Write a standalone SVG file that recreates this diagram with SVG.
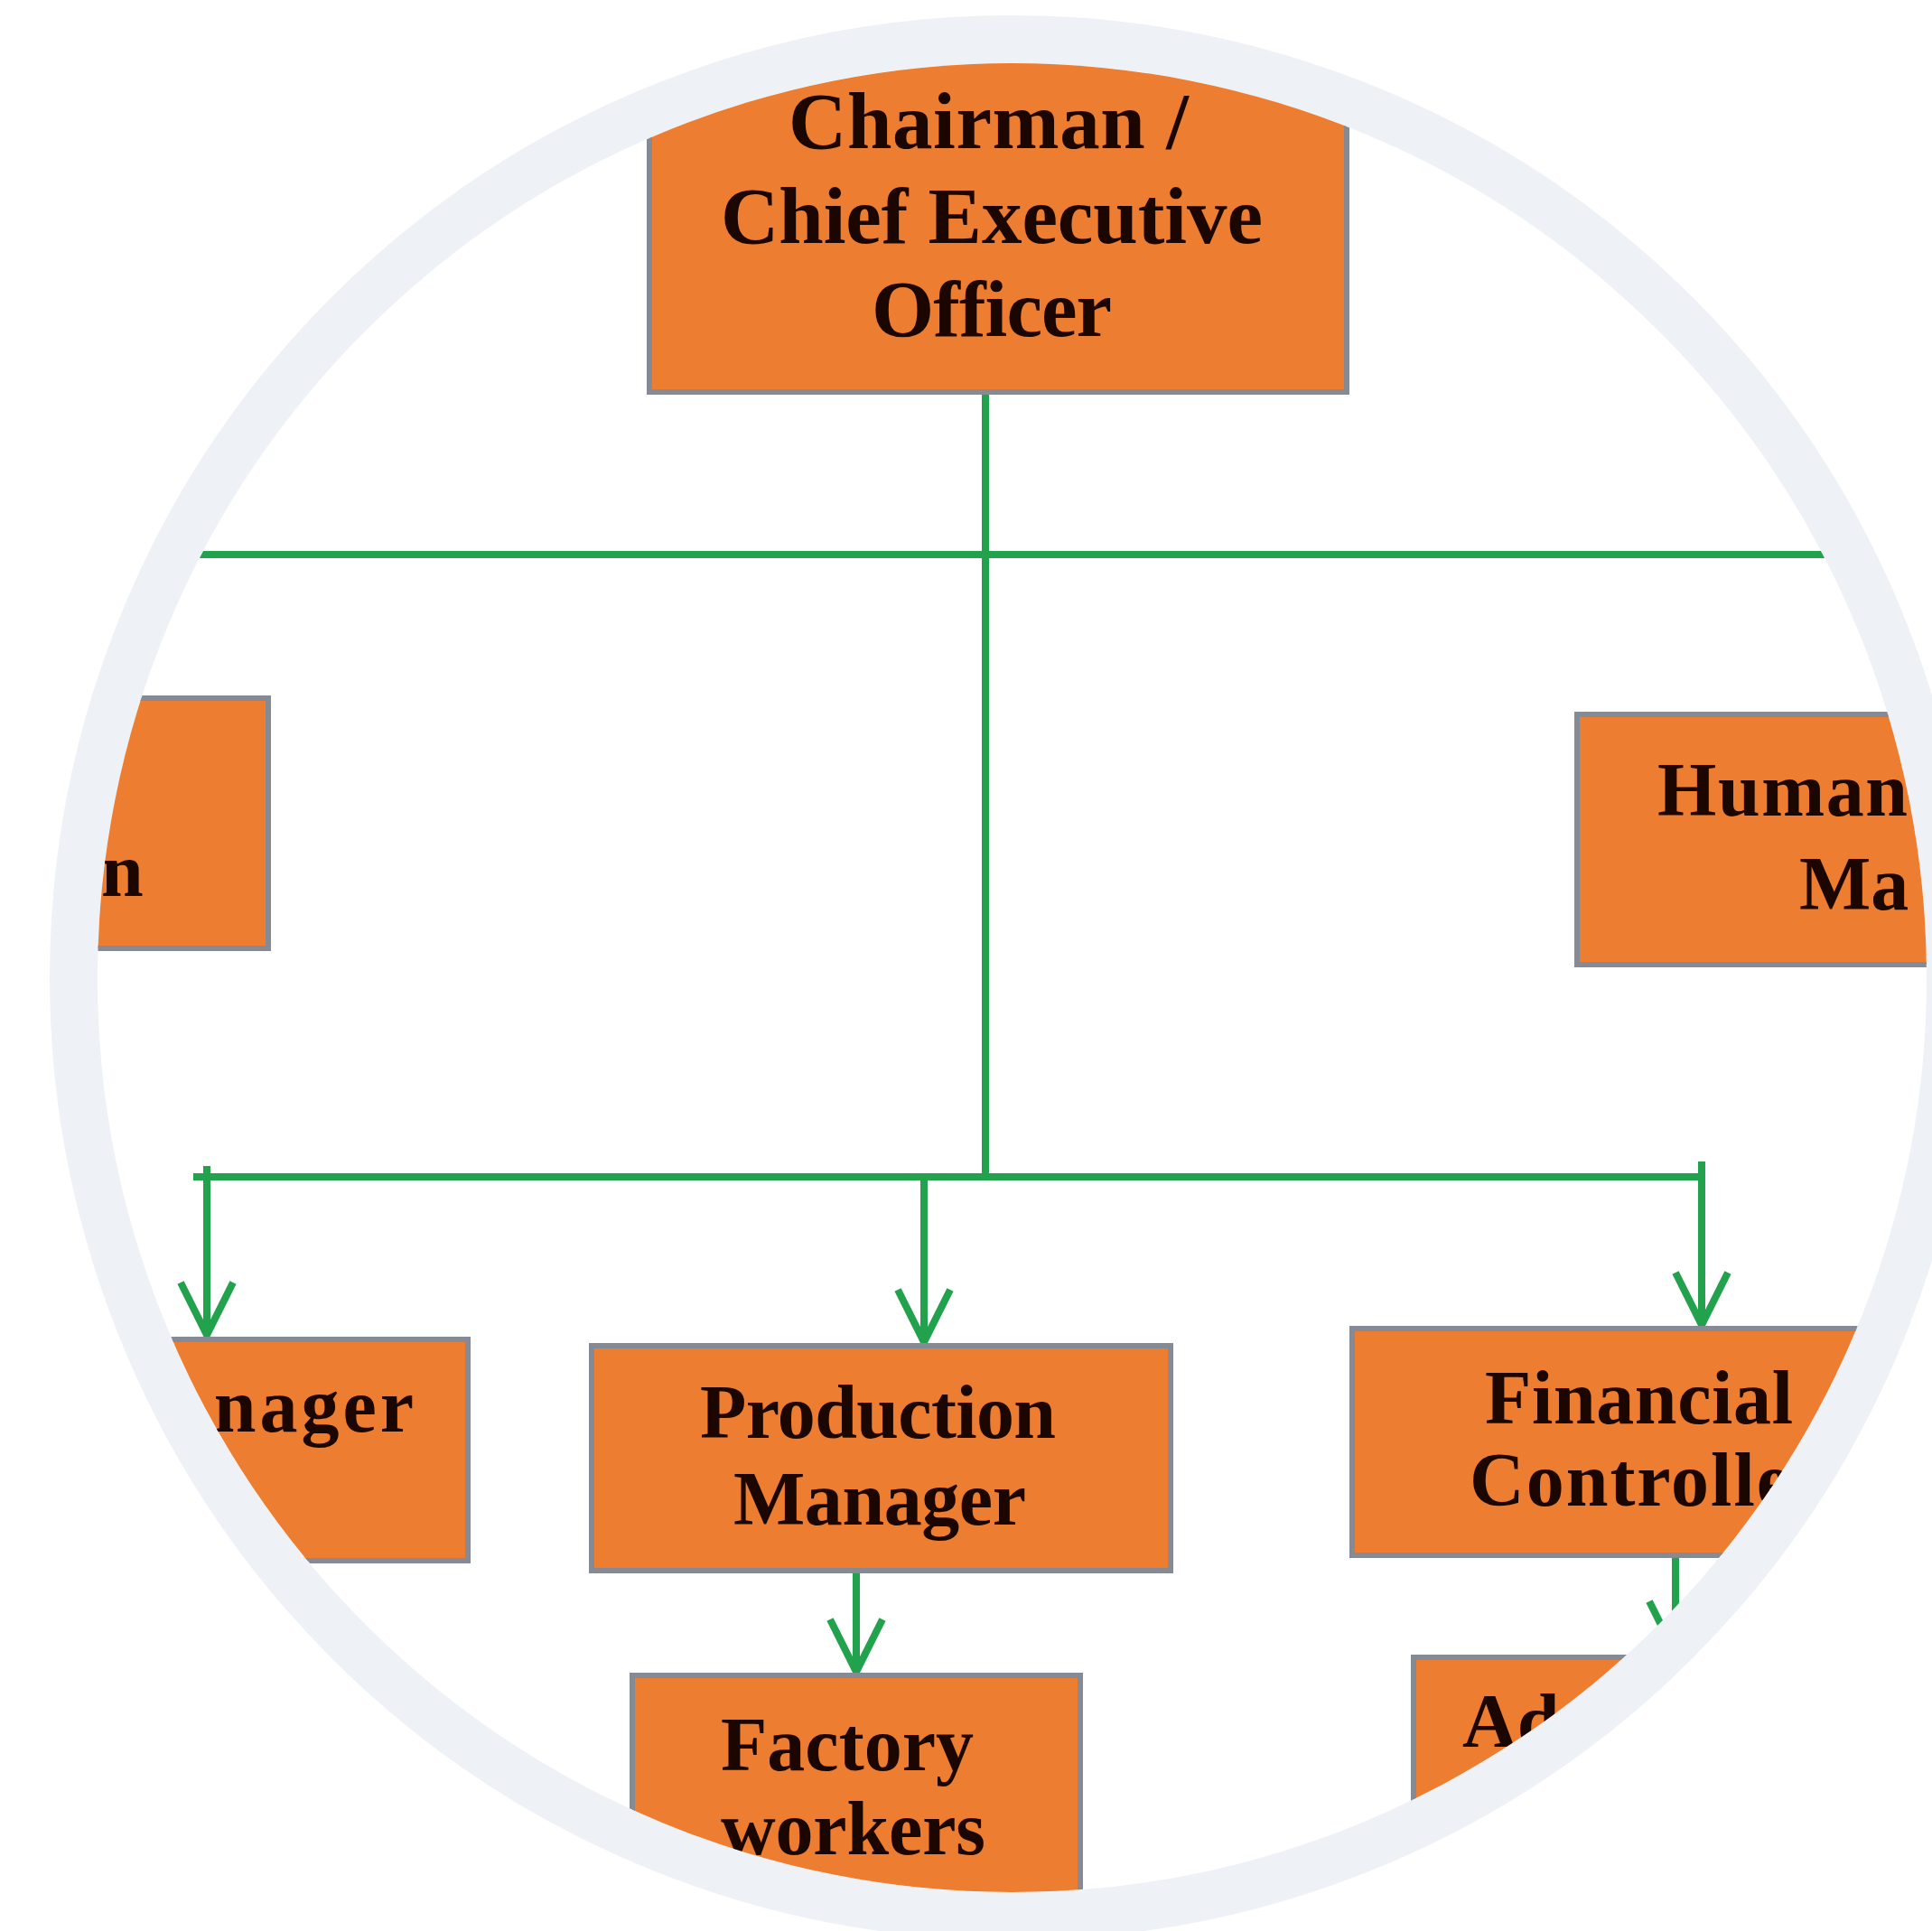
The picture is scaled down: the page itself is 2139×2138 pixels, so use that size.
<svg xmlns="http://www.w3.org/2000/svg" width="2139" height="2138" viewBox="0 0 2139 2138">
<style>
.box{fill:#ed7d31;stroke:#858a95;stroke-width:6}
.t{font-family:"Liberation Serif","Times New Roman",serif;font-weight:bold;fill:#1c0700;font-size:84px}
.big{font-size:89px}
.ln{fill:none;stroke:#23a24e;stroke-width:8;stroke-linecap:butt}
</style>
<defs>
<clipPath id="clip"><circle cx="1120.5" cy="1082.5" r="1012.5"/></clipPath>
<marker id="arr" markerUnits="userSpaceOnUse" viewBox="-66 -38 74 76" markerWidth="74" markerHeight="76" refX="0" refY="0" orient="auto" overflow="visible">
<path d="M -58 -29 L 0 0 L -58 29" fill="none" stroke="#23a24e" stroke-width="8"/>
</marker>
</defs>
<rect width="2139" height="2138" fill="#ffffff"/>
<circle cx="1120.5" cy="1082.5" r="1039" fill="none" stroke="#eef2f7" stroke-width="53"/>
<g clip-path="url(#clip)">
<g id="connectors">
<line class="ln" x1="1091" y1="434" x2="1091" y2="1307"/>
<line class="ln" x1="100" y1="614" x2="2200" y2="614"/>
<line class="ln" x1="214" y1="1303" x2="1888" y2="1303"/>
<line class="ln" x1="229" y1="1291" x2="229" y2="1478" marker-end="url(#arr)"/>
<line class="ln" x1="1023" y1="1303" x2="1023" y2="1486" marker-end="url(#arr)"/>
<line class="ln" x1="1884" y1="1286" x2="1884" y2="1467" marker-end="url(#arr)"/>
<line class="ln" x1="948" y1="1739" x2="948" y2="1851" marker-end="url(#arr)"/>
<line class="ln" x1="1855" y1="1708" x2="1855" y2="1831" marker-end="url(#arr)"/>
</g>
<g id="ceo">
<rect class="box" x="719" y="-50" width="772" height="484"/>
<text class="t big" x="873" y="164" textLength="443" lengthAdjust="spacing">Chairman /</text>
<text class="t big" x="798" y="269" textLength="600" lengthAdjust="spacing">Chief Executive</text>
<text class="t big" x="965" y="372" textLength="266" lengthAdjust="spacing">Officer</text>
</g>
<g id="left-upper">
<rect class="box" x="-50" y="773" width="347" height="277"/>
<text class="t" x="112" y="992" textLength="50" lengthAdjust="spacing">n</text>
</g>
<g id="hr">
<rect class="box" x="1746" y="791" width="600" height="277"/>
<text class="t" x="1835" y="903" textLength="277" lengthAdjust="spacing">Human</text>
<text class="t" x="1992" y="1007">Ma</text>
</g>
<g id="left-lower">
<rect class="box" x="-50" y="1483" width="568" height="245"/>
<text class="t" x="462" y="1585" font-size="90" letter-spacing="4" text-anchor="end">nager</text>
</g>
<g id="production">
<rect class="box" x="655" y="1490" width="641" height="249"/>
<text class="t" x="775" y="1592" textLength="394" lengthAdjust="spacing">Production</text>
<text class="t" x="812" y="1688" textLength="324" lengthAdjust="spacing">Manager</text>
</g>
<g id="financial">
<rect class="box" x="1497" y="1471" width="800" height="251"/>
<text class="t" x="1644" y="1576" textLength="341" lengthAdjust="spacing">Financial</text>
<text class="t" x="1627" y="1667" letter-spacing="2">Controlle</text>
</g>
<g id="factory">
<rect class="box" x="700" y="1855" width="496" height="400"/>
<text class="t" x="798" y="1960" textLength="280" lengthAdjust="spacing">Factory</text>
<text class="t" x="798" y="2053" textLength="293" lengthAdjust="spacing">workers</text>
</g>
<g id="admin">
<rect class="box" x="1565" y="1835" width="700" height="400"/>
<text class="t" x="1619" y="1934">Ad</text>
</g>
</g>
</svg>
